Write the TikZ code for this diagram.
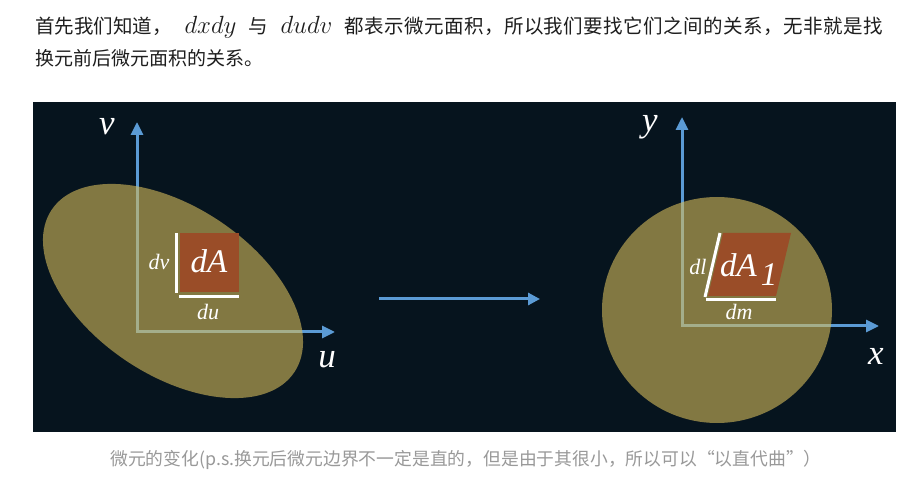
\documentclass[tikz,border=0pt]{standalone}
\usepackage{fontspec}
\newfontfamily\cjk{Noto Sans CJK SC}
\newfontfamily\labelserif{Liberation Serif}
\usetikzlibrary{arrows.meta}
\definecolor{bgdark}{RGB}{6,20,30}
\definecolor{axisblue}{RGB}{91,155,213}
\definecolor{blobfill}{RGB}{214,187,91}
\definecolor{brick}{RGB}{154,77,40}
\definecolor{captiongrey}{RGB}{153,153,153}
\definecolor{bodytext}{RGB}{30,30,30}
\tikzset{
  axisline/.style={draw=axisblue, line width=3pt, line join=miter,
    {Triangle[length=13pt,width=12pt]}-{Triangle[length=13pt,width=12pt]}},
  flowarrow/.style={draw=axisblue, line width=3pt, -{Triangle[length=12pt,width=12pt]}},
  blob/.style={fill=blobfill, fill opacity=0.6},
  edgemark/.style={draw=white, line width=3pt},
  axislabel/.style={inner sep=0, anchor=base, text=white, font=\labelserif\fontsize{35}{35}\selectfont\itshape},
  arealabel/.style={inner sep=0, anchor=base, text=white, font=\labelserif\fontsize{33}{33}\selectfont\itshape},
  sidelabel/.style={inner sep=0, anchor=base, text=white, font=\labelserif\fontsize{22}{22}\selectfont\itshape},
  bodytxt/.style={inner sep=0, anchor=base west, text=bodytext, font=\cjk\fontsize{19.5}{19.5}\selectfont},
  mathtxt/.style={inner sep=0, anchor=base, text=bodytext, font=\fontsize{27}{27}\selectfont},
  captiontxt/.style={inner sep=0, anchor=base, text=captiongrey, font=\cjk\fontsize{17.8}{17.8}\selectfont}
}
\begin{document}
\begin{tikzpicture}[x=1pt,y=-1pt]
\useasboundingbox (0,0) rectangle (908,486);
\fill[white] (0,0) rectangle (908,486);

% top paragraph
\node[bodytxt] (t1) at (35,34) {首先我们知道，};
\node[mathtxt] (t2) at (210.5,34) {$dxdy$};
\node[bodytxt, anchor=base] (t3) at (258,34) {与};
\node[mathtxt] (t4) at (306.5,34) {$dudv$};
\node[bodytxt] (t5) at (344,34) {\makebox[539pt]{都\hfill 表\hfill 示\hfill 微\hfill 元\hfill 面\hfill 积\hfill ，\hfill 所\hfill 以\hfill 我\hfill 们\hfill 要\hfill 找\hfill 它\hfill 们\hfill 之\hfill 间\hfill 的\hfill 关\hfill 系\hfill ，\hfill 无\hfill 非\hfill 就\hfill 是\hfill 找}};
\node[bodytxt, font=\cjk\fontsize{19}{19}\selectfont] (t6) at (35,66) {换元前后微元面积的关系。};

% dark panel
\fill[bgdark] (33,102) rectangle (896,432);

% ---- left panel ----
\coordinate (lo) at (137,332);
\coordinate (lv) at (137,122);
\coordinate (lu) at (335,332);
\draw[axisline] (lv) -- (lo) -- (lu);
\begin{scope}[shift={(173,291)}, rotate=-33.8]
  \fill[blob] (0,0) ellipse [x radius=146pt, y radius=84pt];
\end{scope}
\fill[brick] (180,233) rectangle (239,292);
\coordinate (lvt) at (176,233);
\coordinate (lvb) at (176,293);
\coordinate (lhl) at (179,296.5);
\coordinate (lhr) at (239,296.5);
\draw[edgemark] (lvt) -- (lvb);
\draw[edgemark] (lhl) -- (lhr);
\node[arealabel] (dA) at (209,273) {dA};
\node[sidelabel] (dv) at (159,270) {dv};
\node[sidelabel] (du) at (208,320) {du};
\node[axislabel] (v) at (107,135) {v};
\node[axislabel] (u) at (327,367) {u};

% ---- middle arrow ----
\coordinate (ma) at (379,299);
\coordinate (mb) at (540,299);
\draw[flowarrow] (ma) -- (mb);

% ---- right panel ----
\coordinate (ro) at (682,326);
\coordinate (ry) at (682,117);
\coordinate (rx) at (879,326);
\draw[axisline] (ry) -- (ro) -- (rx);
\fill[blob] (717,310) ellipse [x radius=115pt, y radius=113pt];
\fill[brick] (723,233) -- (791,233) -- (776,296) -- (708,296) -- cycle;
\coordinate (rst) at (720,233);
\coordinate (rsb) at (705,297);
\coordinate (rbl) at (706,300);
\coordinate (rbr) at (776,300);
\draw[edgemark] (rst) -- (rsb);
\draw[edgemark] (rbl) -- (rbr);
\node[arealabel, anchor=base west] (dA1) at (720,277) {dA\hspace{4pt}\raisebox{-9pt}{1}};
\node[sidelabel] (dl) at (698,275) {dl};
\node[sidelabel] (dm) at (739,320) {dm};
\node[axislabel] (y) at (650,132) {y};
\node[axislabel] (x) at (876,365) {x};

% caption
\node[captiontxt] (cap) at (466,465) {微元的变化(p.s.换元后微元边界不一定是直的，但是由于其很小，所以可以“以直代曲”）};
\end{tikzpicture}
\end{document}
